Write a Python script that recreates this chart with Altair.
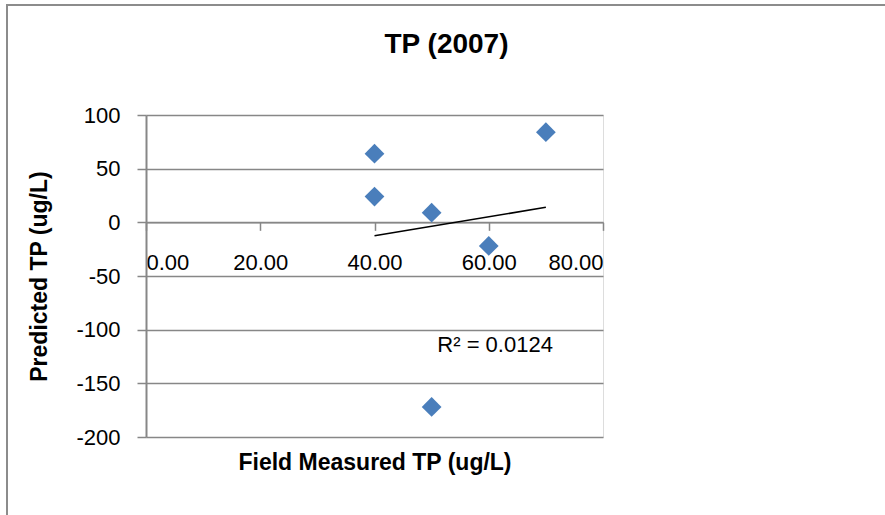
import altair as alt
import pandas as pd

# ---- data ----
field_tp = [40, 40, 50, 50, 60, 70]
predicted_tp = [64, 24, 9, -172, -22, 84]
x_ticks = [0, 20, 40, 60, 80]
y_ticks = [-200, -150, -100, -50, 0, 50, 100]
r2_text = ["R² = 0.0124"]
r2_x = [51]
r2_y = [-121]

df = pd.DataFrame({"x": field_tp, "y": predicted_tp})
r2_df = pd.DataFrame({"x": r2_x, "y": r2_y, "t": r2_text})

W, H = 457, 322
GRID = "#878787"
FONT = "Liberation Sans"

x_scale = alt.Scale(domain=[0, 80], nice=False, zero=False)
y_scale = alt.Scale(domain=[-200, 100], nice=False, zero=False)

zero_px = H * 100 / 300.0
x_axis = alt.Axis(
    values=x_ticks, format=".2f", title="Field Measured TP (ug/L)",
    offset=-(H - zero_px), grid=False,
    domainColor=GRID, domainWidth=1.5, tickColor=GRID, tickWidth=1.5, tickSize=8,
    labelFontSize=22, labelPadding=22, labelColor="black", labelFont=FONT,
    titleFontSize=23, titleFont=FONT, titleFontWeight="bold", titleColor="black",
    titleY=H - zero_px + 32, titleBaseline="alphabetic",
)
y_axis = alt.Axis(
    values=y_ticks, title="Predicted TP (ug/L)",
    labelExpr="toString(datum.value)",
    grid=True, gridColor=GRID, gridWidth=1.5,
    domainColor=GRID, domainWidth=2, tickColor=GRID, tickWidth=1.5, tickSize=9,
    labelFontSize=22, labelPadding=17, labelColor="black", labelFont=FONT,
    titleFontSize=23, titleFont=FONT, titleFontWeight="bold", titleColor="black",
    titlePadding=24,
)

X = alt.X("x:Q", scale=x_scale, axis=x_axis)
Y = alt.Y("y:Q", scale=y_scale, axis=y_axis)

points = alt.Chart(df).mark_point(
    shape="diamond", filled=True, size=390, color="#4a7ebb", opacity=1
).encode(x=X, y=Y)

trend = alt.Chart(df).transform_regression("x", "y").mark_line(
    color="black", strokeWidth=1.6
).encode(x=X, y=Y)

r2 = alt.Chart(r2_df).mark_text(
    align="left", baseline="alphabetic", fontSize=22, font=FONT, color="black"
).encode(x=X, y=Y, text="t:N")

border = alt.Chart(pd.DataFrame({"a": [0]})).mark_rect(
    fillOpacity=0, stroke="#8c8c8c", strokeWidth=2, clip=False
).encode(
    x=alt.value(-139), x2=alt.value(760), y=alt.value(-110), y2=alt.value(420)
)

chart = alt.layer(border, trend, points, r2).properties(
    width=W, height=H,
    title=alt.TitleParams(
        "TP (2007)", fontSize=28, font=FONT, fontWeight="bold", color="black",
        anchor="middle", frame="group", dx=72, offset=-77, baseline="alphabetic",
    ),
    autosize=alt.AutoSizeParams(type="none"),
    padding={"left": 146, "top": 115, "right": 282, "bottom": 78},
).configure_view(stroke=None).configure(background="white")

chart.save("out.html", embed_options={"renderer": "svg", "actions": False})
